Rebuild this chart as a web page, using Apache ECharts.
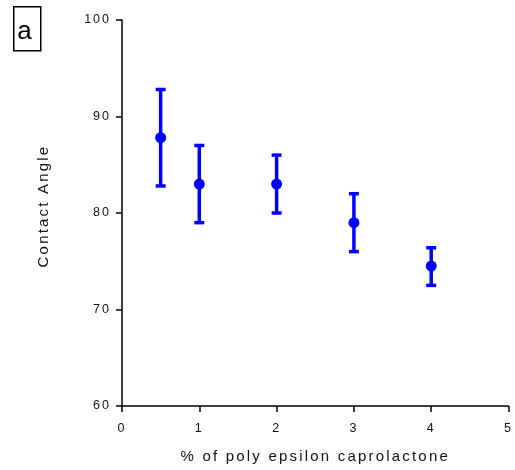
<!DOCTYPE html>
<html>
<head>
<meta charset="utf-8">
<script src="https://cdn.jsdelivr.net/npm/echarts@6/dist/echarts.min.js"></script>
<style>
  html, body { margin: 0; padding: 0; background: #fff; }
  #chart { width: 515px; height: 470px; }
</style>
</head>
<body>
<div id="chart"></div>
<script>
// 数据
const xVals = [0.5, 1, 2, 3, 4];
const meanVals = [87.8, 83.0, 83.0, 79.0, 74.5];
const lowVals = [82.8, 79.0, 80.0, 76.0, 72.5];
const highVals = [92.8, 87.0, 86.0, 82.0, 76.4];
const xTicks = [0, 1, 2, 3, 4, 5];
const yTicks = [60, 70, 80, 90, 100];

const blue = '#0000ff';
const font = 'Liberation Sans, Arial, sans-serif';

// 字间距: canvas letterSpacing, 按字号区分
const origFill = CanvasRenderingContext2D.prototype.fillText;
CanvasRenderingContext2D.prototype.fillText = function (t, x, y, w) {
    let m = this.font.match(/([\d.]+)px/);
    let size = m ? parseFloat(m[1]) : 0;
    let old = this.letterSpacing;
    if (size === 15) this.letterSpacing = '2.2px';
    else if (size === 12.5) this.letterSpacing = '2px';
    if (w === undefined) origFill.call(this, t, x, y);
    else origFill.call(this, t, x, y, w);
    this.letterSpacing = old;
};

let points = xVals.map((x, i) => [x, meanVals[i]]);
let bars = xVals.map((x, i) => [x, lowVals[i], highVals[i]]);

let chart = echarts.init(document.getElementById('chart'));
let option = {
    animation: false,
    grid: { left: 122, right: 4, top: 20, bottom: 64 },
    xAxis: {
        type: 'value',
        min: xTicks[0], max: xTicks[xTicks.length - 1], interval: 1,
        name: '% of poly epsilon caprolactone',
        nameLocation: 'middle',
        nameGap: 43,
        nameTextStyle: { color: '#111', fontSize: 15, fontFamily: font },
        axisLine: { lineStyle: { color: '#000', width: 1.5 } },
        axisTick: { length: 6, lineStyle: { color: '#000', width: 1.5 } },
        axisLabel: { color: '#111', fontSize: 12.5, fontFamily: font, margin: 16 },
        splitLine: { show: false }
    },
    yAxis: {
        type: 'value',
        min: yTicks[0], max: yTicks[yTicks.length - 1], interval: 10,
        name: 'Contact Angle',
        nameLocation: 'middle',
        nameGap: 71,
        nameTextStyle: { color: '#111', fontSize: 15, fontFamily: font, padding: [0, 0, 0, 14] },
        axisLine: { show: true, lineStyle: { color: '#000', width: 1.5 } },
        axisTick: { show: true, length: 6, lineStyle: { color: '#000', width: 1.5 } },
        axisLabel: { color: '#111', fontSize: 12.5, fontFamily: font, margin: 11 },
        splitLine: { show: false }
    },
    graphic: [
        {
            type: 'rect', left: 13, top: 6,
            shape: { width: 27, height: 44 },
            style: { fill: '#fff', stroke: '#000', lineWidth: 1.5 }
        },
        {
            type: 'text', x: 24.5, y: 31.5,
            style: { text: 'a', fontSize: 26, fontFamily: font, fill: '#000', align: 'center', verticalAlign: 'middle' }
        }
    ],
    series: [
        {
            type: 'custom',
            data: bars,
            renderItem: function (params, api) {
                let x = api.value(0);
                let lo = api.coord([x, api.value(1)]);
                let hi = api.coord([x, api.value(2)]);
                let half = 5;
                let st = { stroke: blue, lineWidth: 3.5 };
                return {
                    type: 'group',
                    children: [
                        { type: 'line', shape: { x1: lo[0], y1: lo[1], x2: hi[0], y2: hi[1] }, style: st },
                        { type: 'line', shape: { x1: lo[0] - half, y1: lo[1], x2: lo[0] + half, y2: lo[1] }, style: st },
                        { type: 'line', shape: { x1: hi[0] - half, y1: hi[1], x2: hi[0] + half, y2: hi[1] }, style: st }
                    ]
                };
            },
            z: 2
        },
        {
            type: 'scatter',
            data: points,
            symbol: 'circle',
            symbolSize: 11,
            itemStyle: { color: blue, opacity: 1 },
            z: 3
        }
    ]
};
chart.setOption(option);
</script>
</body>
</html>
